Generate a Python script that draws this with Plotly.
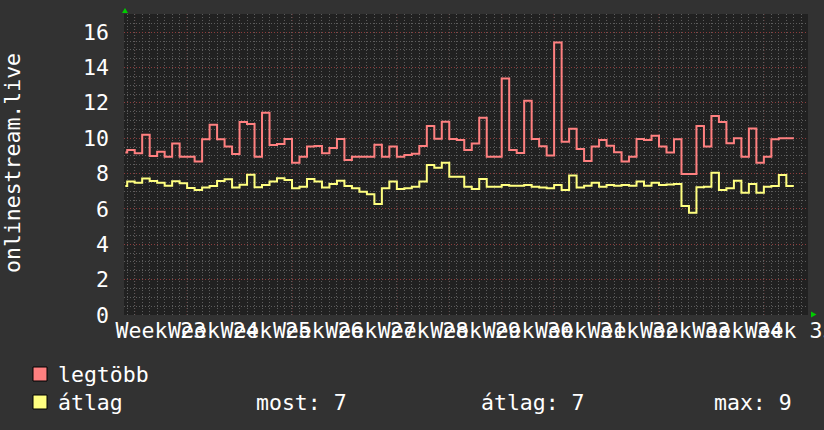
import plotly.graph_objects as go

# ---- data (daily values) ----
legtobb = [9.19, 9.34, 9.15, 10.20, 9.00, 9.24, 8.96, 9.70, 8.96, 8.96,
           8.68, 9.94, 10.77, 9.94, 9.53, 9.11, 10.92, 10.81, 8.96, 11.45,
           9.62, 9.68, 9.96, 8.62, 8.96, 9.53, 9.56, 9.15, 9.45, 9.96,
           8.77, 8.96, 8.96, 8.96, 9.64, 8.96, 9.53, 8.96, 9.05, 9.13,
           9.57, 10.70, 9.98, 10.93, 9.96, 9.90, 9.34, 9.70, 11.17, 8.96,
           8.96, 13.38, 9.34, 9.17, 12.13, 9.96, 9.55, 9.02, 15.42, 9.81,
           10.54, 9.39, 8.72, 9.53, 9.90, 9.58, 9.21, 8.68, 8.96, 9.96,
           9.90, 10.15, 9.53, 9.19, 9.94, 7.98, 7.98, 10.70, 9.53, 11.26,
           10.92, 9.72, 10.00, 8.96, 10.56, 8.62, 8.96, 9.94, 10.00, 10.00]
atlag = [7.30, 7.55, 7.49, 7.72, 7.58, 7.49, 7.32, 7.57, 7.45, 7.19,
         7.07, 7.21, 7.30, 7.58, 7.68, 7.21, 7.37, 7.94, 7.23, 7.36,
         7.55, 7.74, 7.64, 7.17, 7.26, 7.70, 7.55, 7.21, 7.41, 7.60,
         7.30, 7.17, 6.98, 6.83, 6.28, 7.17, 7.55, 7.13, 7.17, 7.26,
         7.55, 8.49, 8.34, 8.62, 7.83, 7.83, 7.26, 7.13, 7.70, 7.26,
         7.26, 7.36, 7.32, 7.32, 7.36, 7.26, 7.21, 7.17, 7.36, 7.07,
         7.89, 7.21, 7.32, 7.49, 7.26, 7.36, 7.32, 7.36, 7.32, 7.55,
         7.32, 7.49, 7.36, 7.38, 7.41, 6.17, 5.79, 7.23, 7.26, 8.05,
         7.07, 7.17, 7.60, 6.92, 7.41, 6.92, 7.26, 7.30, 7.92, 7.30]
# day offsets (0 = start of Week 23); first sample is a partial day
day_start = -1.25
week_labels = ["Week 23", "Week 24", "Week 25", "Week 26", "Week 27",
               "Week 28", "Week 29", "Week 30", "Week 31", "Week 32",
               "Week 33", "Week 34", "Week 35"]
y_ticks = [0, 2, 4, 6, 8, 10, 12, 14, 16]
legend_rows = [("legtöbb", "#ff8080"), ("átlag", "#ffff80")]
stats = ["most: 7", "átlag: 7", "max: 9"]
y_title = "onlinestream.live"

# x positions: partial first day, then one step per day, plus the closing edge
days = [day_start] + list(range(-1, len(legtobb) - 1))
x_steps = days + [days[-1] + 1]
y_max = legtobb + [legtobb[-1]]
y_avg = atlag + [atlag[-1]]

W, H = 824, 430
L, R, T, B = 124, 16, 14, 115
PW, PH = W - L - R, H - T - B
FONT = "DejaVu Sans Mono"
FS = 21.5
BG = "#323232"
CANVAS = "#212121"
MINOR = "#5c5c5c"
MAJOR = "#8c3c3c"
DASH = "1px,2px"
PX_PER_DAY = 7.49


def pxx(x):
    return (x - L) / PW


def pxy(y):
    return (H - B - y) / PH


fig = go.Figure()
fig.add_trace(go.Scatter(x=x_steps, y=y_max, mode="lines", line_shape="hv",
                         line=dict(color=legend_rows[0][1], width=2),
                         hoverinfo="skip", showlegend=False))
fig.add_trace(go.Scatter(x=x_steps, y=y_avg, mode="lines", line_shape="hv",
                         line=dict(color=legend_rows[1][1], width=2),
                         hoverinfo="skip", showlegend=False))

shapes = []
for j in range(len(week_labels)):
    shapes.append(dict(type="line", xref="x", yref="paper", x0=7 * j, x1=7 * j,
                       y0=0, y1=1, layer="between",
                       line=dict(color=MAJOR, width=1, dash=DASH)))
# legend swatches
for i, (name, col) in enumerate(legend_rows):
    top = 367 + 28 * i
    shapes.append(dict(type="rect", xref="paper", yref="paper",
                       x0=pxx(33), x1=pxx(47), y0=pxy(top + 14), y1=pxy(top),
                       fillcolor=col, line=dict(color="#000000", width=1)))
# green axis arrows
shapes.append(dict(type="path", xref="paper", yref="paper",
                   path=f"M {pxx(122)} {pxy(13)} L {pxx(128)} {pxy(13)} L {pxx(125)} {pxy(8)} Z",
                   fillcolor="#00cc00", line=dict(color="#00cc00", width=0)))
shapes.append(dict(type="path", xref="paper", yref="paper",
                   path=f"M {pxx(811)} {pxy(311.5)} L {pxx(811)} {pxy(317.5)} L {pxx(816.5)} {pxy(314.5)} Z",
                   fillcolor="#00cc00", line=dict(color="#00cc00", width=0)))

annotations = [dict(text=y_title, xref="paper", yref="paper", x=pxx(12.5), y=pxy(163.5),
                    xanchor="center", yanchor="middle", textangle=-90, showarrow=False,
                    font=dict(family=FONT, size=FS, color="#ffffff"))]
for i, (name, col) in enumerate(legend_rows):
    annotations.append(dict(text=name, xref="paper", yref="paper", x=pxx(56), y=pxy(374 + 28 * i),
                            xanchor="left", yanchor="middle", showarrow=False,
                            font=dict(family=FONT, size=FS, color="#ffffff")))
for s, xl in zip(stats, [254, 479, 712]):
    annotations.append(dict(text=s, xref="paper", yref="paper", x=pxx(xl), y=pxy(402),
                            xanchor="left", yanchor="middle", showarrow=False,
                            font=dict(family=FONT, size=FS, color="#ffffff")))

x_left = (L - 134.7) / PX_PER_DAY
fig.update_layout(
    width=W, height=H,
    margin=dict(l=L, r=R, t=T, b=B, pad=0, autoexpand=False),
    paper_bgcolor=BG, plot_bgcolor=CANVAS,
    font=dict(family=FONT, size=FS, color="#ffffff"),
    shapes=shapes, annotations=annotations,
    xaxis=dict(range=[x_left, x_left + PW / PX_PER_DAY], automargin=False,
               tickmode="array", tickvals=[3.5 + 7 * j for j in range(len(week_labels))],
               ticktext=week_labels, tickangle=0, ticklabeloverflow="allow",
               ticks="", showgrid=False, zeroline=False, showline=False,
               tickfont=dict(family=FONT, size=FS, color="#ffffff"),
               minor=dict(tickmode="linear", tick0=0, dtick=1, showgrid=True,
                          gridcolor=MINOR, griddash=DASH, gridwidth=1, ticks="")),
    yaxis=dict(range=[0, PH / 17.67], automargin=False, tickmode="array", tickvals=y_ticks,
               ticks="", showgrid=True, gridcolor=MAJOR, griddash=DASH, gridwidth=1,
               zeroline=False, showline=False, ticklabelstandoff=14,
               tickfont=dict(family=FONT, size=FS, color="#ffffff"),
               minor=dict(tickmode="linear", tick0=0, dtick=0.5, showgrid=True,
                          gridcolor=MINOR, griddash=DASH, gridwidth=1, ticks="")),
)

fig.write_html("out.html",
               config={"displayModeBar": False},
               post_script="document.body.style.margin='0';document.body.style.background='%s';" % BG)
